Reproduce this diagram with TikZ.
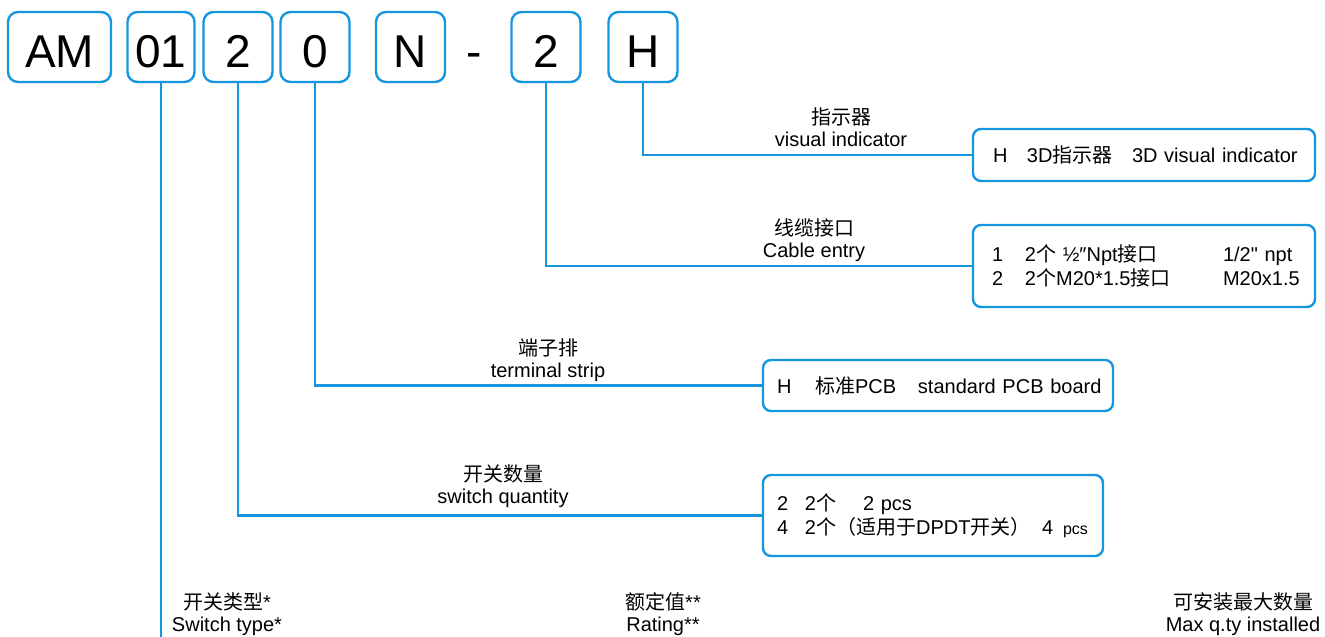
\documentclass[tikz,border=0pt]{standalone}
\usepackage{fontspec}
\setmainfont{Liberation Sans}
\newfontfamily\plainfont{Liberation Sans}
\newfontfamily\cjk{Noto Sans CJK SC}
\definecolor{lineblue}{RGB}{22,150,222}
\begin{document}
\begin{tikzpicture}[x=1pt,y=-1pt,
  codebox/.style={draw=lineblue,line width=2.4,rounded corners=10,inner sep=0,
    minimum height=70,text height=40,text depth=0,font=\fontsize{46}{50}\selectfont},
  infobox/.style={draw=lineblue,line width=2.4,rounded corners=8,align=left,
    font=\fontsize{20}{24}\selectfont,inner ysep=0},
  conn/.style={draw=lineblue,line width=2.6},
  lbl/.style={align=center,inner sep=0,anchor=south,font=\fontsize{20}{22}\selectfont}]
\useasboundingbox (0,0) rectangle (1325,637);
% code boxes
\node[codebox,minimum width=103] (bAM) at (59.5,47) {AM};
\node[codebox,minimum width=67] (b01) at (161,47) {01};
\node[codebox,minimum width=69] (bQ) at (238,47) {2};
\node[codebox,minimum width=69] (bT) at (315,47) {0};
\node[codebox,minimum width=69] (bN) at (410.5,47) {N};
\node[inner sep=0,text height=40,text depth=0,font=\fontsize{46}{50}\selectfont] (dash) at (474,47) {-};
\node[codebox,minimum width=69] (bC) at (546,47) {2};
\node[codebox,minimum width=69] (bH) at (643,47) {H};
% info boxes
\node[infobox,minimum height=52,text width=302,inner xsep=20] (iH) at (1144,155)
  {\mbox{\makebox[34pt][l]{H}\makebox[105pt][l]{3D{\cjk 指示器}}3D visual indicator}};
\node[infobox,minimum height=82,text width=304,inner xsep=19] (iC) at (1144,266)
  {\mbox{\makebox[33pt][l]{1}\makebox[198pt][l]{2{\cjk 个} ½″Npt{\cjk 接口}}1/2{\plainfont "} npt}\\
   \mbox{\makebox[33pt][l]{2}\makebox[198pt][l]{2{\cjk 个}M20*1.5{\cjk 接口}}M20x1.5}};
\node[infobox,minimum height=51,text width=322,inner xsep=14] (iT) at (938,385.5)
  {\mbox{\makebox[38pt][l]{H}\makebox[103pt][l]{{\cjk 标准}PCB}standard PCB board}};
\node[infobox,minimum height=81,text width=312,inner xsep=14] (iQ) at (933,515.5)
  {\mbox{\makebox[28pt][l]{2}\makebox[58pt][l]{2{\cjk 个}}2 pcs}\\
   \mbox{\makebox[28pt][l]{4}\makebox[237pt][l]{2{\cjk 个（适用于}DPDT{\cjk 开关）}}\makebox[21pt][l]{4}{\fontsize{16}{20}\selectfont pcs}}};
% connectors
\coordinate (bot) at (161,640);
\draw[conn] (bH.south) |- (iH.west);
\draw[conn] (bC.south) |- (iC.west);
\draw[conn] (bT.south) |- (iT.west);
\draw[conn] (bQ.south) |- (iQ.west);
\draw[conn] (b01.south) -- (b01.south |- bot);
% connector labels
\node[lbl] (lH) at (841,153) {{\cjk 指示器}\\visual indicator\strut};
\node[lbl] (lC) at (814,264) {{\cjk 线缆接口}\\Cable entry\strut};
\node[lbl] (lT) at (548,384.5) {{\cjk 端子排}\\terminal strip\strut};
\node[lbl] (lQ) at (503,510) {{\cjk 开关数量}\\switch quantity\strut};
% bottom labels
\node[lbl] (lS) at (227,638.6) {{\cjk 开关类型}*\\Switch type*\strut};
\node[lbl] (lR) at (663,638.6) {{\cjk 额定值}**\\Rating**\strut};
\node[lbl] (lM) at (1243,638.6) {{\cjk 可安装最大数量}\\Max q.ty installed\strut};
\end{tikzpicture}
\end{document}
